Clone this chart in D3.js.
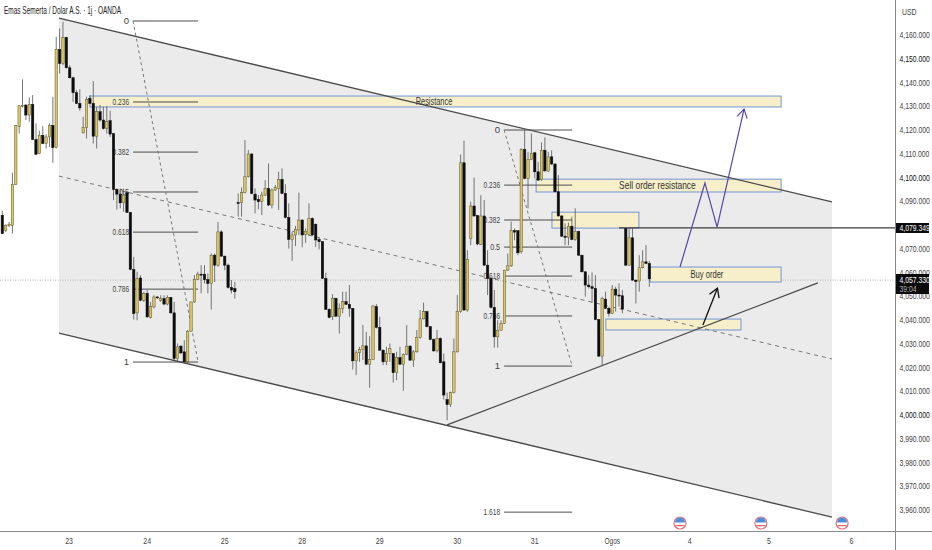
<!DOCTYPE html>
<html>
<head>
<meta charset="utf-8">
<script src="https://cdnjs.cloudflare.com/ajax/libs/d3/7.8.5/d3.min.js"></script>
<style>
  html, body { margin: 0; padding: 0; background: #fff; }
  text { font-family: "Liberation Sans", sans-serif; }
</style>
</head>
<body>
<div id="chart"></div>
<script>
// candle data, one hourly bar each
const opens = [
  4084.1,4077.8,4079.9,4079.9,4097.1,4121.6,4130,4130.5,4126.3,4130.8,
  4116,4110.1,4117.8,4114.3,4117.1,4122,4112.6,4153.9,4148,4159,
  4146.2,4142,4135.7,4131.2,4118.8,4121.1,4133.3,4131.2,4117.4,4127.7,
  4124.2,4120.6,4123.9,4118.5,4095,4093,4089.5,4093.6,4085.3,4061.3,
  4043,4057.7,4048.3,4051.2,4041,4045.5,4049.7,4048.3,4049,4046.7,
  4049.5,4043,4023.8,4029,4026.6,4022.4,4035.3,4047.6,4057,4059.3,
  4059.3,4057,4055.4,4067.3,4063.1,4077.1,4066.9,4063.1,4053.7,4053.2,
  4089.5,4089.4,4093.6,4100.3,4109.9,4093,4090.8,4089.8,4092.6,4095.4,
  4088.4,4094.7,4095.4,4099.2,4093.3,4083.2,4073.9,4075.8,4077.9,4082.1,
  4076,4076,4082.8,4080.3,4073.9,4073,4057.5,4044.5,4041.4,4049.1,
  4041.6,4044.9,4047.7,4046.6,4044.9,4022.8,4026.2,4027.6,4029.1,4021.4,
  4023.4,4045.6,4036.9,4027.3,4022.4,4025.9,4025.9,4017.8,4024.2,4021.4,
  4025.6,4029,4023.1,4026.6,4032.7,4040.5,4043.5,4037.2,4031.8,4027,
  4032.2,4022.4,4006.5,4004.4,4009.4,4026.6,4043.5,4106.2,4044.2,4074.3,
  4088,4084,4071.8,4083.8,4063.1,4057.5,4045.3,4032.9,4035.7,4038.5,
  4061,4062.8,4077.6,4077.6,4068.7,4111.8,4099.6,4107.6,4110.4,4102.4,
  4099.2,4111.5,4102.7,4108.7,4105.7,4094,4083.8,4075.3,4074.8,4079.5,
  4073.9,4077.2,4067.3,4060.3,4054.7,4054,4053.3,4040.2,4024.8,4048.8,
  4044.9,4042.8,4053,4050.5,4050.2,4078.6,4063.1,4074.6,4056.8,4056.4,
  4062,4064.5,4063.8
];
const highs = [
  4086,4080.3,4081.3,4102,4122,4130.5,4141.3,4130.9,4133.7,4134.7,
  4122.8,4119.7,4121.6,4118.3,4122.8,4134,4159.3,4162.8,4165.6,4159.2,
  4147.3,4142.4,4136.8,4137.1,4125.6,4134,4134.7,4140.6,4129.8,4130.5,
  4129.8,4130,4128.1,4118.6,4095.4,4095.4,4095.4,4094,4085.4,4066.6,
  4060.3,4058.9,4051.9,4052.6,4047.6,4050.4,4050,4050.4,4050.4,4050.4,
  4049.7,4047.6,4030.1,4029.4,4031.5,4035.7,4047.7,4058.9,4060.3,4063.1,
  4063.1,4059.6,4068,4068,4081.3,4077.8,4067,4063.8,4056.8,4056,
  4093.3,4095.8,4115.8,4111.6,4110.2,4095.4,4092.6,4094,4098.9,4105.9,
  4095.4,4096.8,4102.4,4103.8,4097.2,4089.1,4077.2,4079.6,4093.6,4082.4,
  4078.6,4089.1,4083.2,4080.7,4074.8,4073.1,4059.9,4044.9,4050.9,4049.4,
  4047,4051.9,4051.9,4054.7,4045,4027.3,4028.7,4037.9,4035,4033.2,
  4046.3,4046.7,4041.4,4027.6,4028.7,4030.1,4026,4026.6,4028.7,4025.9,
  4037.9,4029.4,4027.3,4035.8,4044.2,4047.3,4043.9,4037.4,4032.2,4035.8,
  4032.7,4025.9,4009.4,4009.8,4032.2,4050.5,4109.7,4115.5,4069.4,4089.8,
  4099.9,4084.2,4092.6,4090.5,4069.4,4058.2,4052.6,4039.9,4039.9,4061.1,
  4068,4081.4,4078.6,4077.7,4112.3,4120,4110.8,4118.6,4110.8,4106.6,
  4114.8,4116.9,4110.8,4111.5,4105.9,4101,4084.2,4080.7,4081,4083.5,
  4087,4077.6,4067.4,4060.4,4058.9,4060,4058.9,4040.3,4049.8,4051.9,
  4045.6,4054.7,4054,4055.4,4052.6,4078.7,4078.6,4078.6,4056.9,4067.3,
  4069.4,4071.5,4064.9
];
const lows = [
  4076.4,4077.1,4079.2,4076.4,4096.8,4118.5,4129.5,4124.2,4123.5,4115.7,
  4109.4,4109.8,4114,4112.2,4112.9,4106.2,4112.2,4143.8,4147.3,4145.9,
  4141.7,4131.9,4130.9,4128.1,4118.5,4116.4,4130.9,4114.3,4112.2,4123.5,
  4120.2,4118.5,4117.1,4090.5,4086.5,4087,4085.6,4085.1,4061,4040.2,
  4039.9,4047.9,4047.6,4041,4040.6,4044.8,4049,4047.6,4046.2,4046.2,
  4042.7,4023.1,4022.4,4025.9,4021.7,4021.7,4035,4047.2,4056.8,4051.2,
  4055.4,4051.2,4044.4,4056,4062.4,4066.6,4061,4053.2,4051.2,4049,
  4083.5,4083.5,4093.3,4100,4093,4084.9,4086.6,4084.2,4092.2,4088,
  4087,4094.4,4086.3,4093,4082.8,4070.1,4064.9,4071.1,4075.8,4070.6,
  4072.5,4075.8,4075.3,4070.8,4069.7,4057.4,4044.2,4040.7,4040,4041.4,
  4034.3,4042.8,4046.3,4041.4,4019.2,4016.8,4022.4,4023.1,4021,4011.5,
  4023.1,4036.4,4027,4021,4021,4022.4,4013.6,4014.7,4021,4010.2,
  4025.2,4022.8,4020.3,4026.3,4032.2,4040.2,4036.9,4031.5,4026.6,4026.3,
  4021.7,4006.5,3997.8,4003.4,4009.1,4026.3,4043,4043.9,4043.5,4071.5,
  4083.5,4071.5,4071.5,4062.8,4050.5,4044.9,4028.4,4028.4,4035.6,4038.3,
  4060.7,4062.4,4073.6,4067.3,4068,4099.2,4087,4107.3,4099.6,4098.6,
  4098.6,4102.4,4102.4,4105.2,4093.6,4083.5,4075,4071.5,4071.5,4073.6,
  4073.4,4067,4060,4049.8,4053.3,4047.3,4039.9,4024.5,4020.6,4044.6,
  4041.4,4042.5,4043.5,4045.6,4042.8,4062.8,4062.8,4056.5,4047,4051.9,
  4061.7,4063.5,4054
];
const closes = [
  4076.4,4079.9,4080.3,4097.1,4121.8,4130.2,4130.4,4126.3,4130.8,4116,
  4109.8,4117.8,4114.3,4117.1,4122,4112.6,4153.9,4148,4159,4146.2,
  4142,4135.7,4131.2,4129.3,4121.1,4132.9,4131.2,4117.4,4127.7,4124.2,
  4120.6,4123.5,4118.3,4095,4093,4089.3,4092.6,4085.3,4061.3,4042.7,
  4057.5,4048.3,4051.2,4041.3,4045.8,4049.7,4049.5,4049,4046.7,4049.5,
  4043,4023.8,4028.7,4026.1,4022.4,4035.3,4047.6,4057,4059.3,4058.9,
  4057,4055.4,4067.3,4063.1,4077.1,4066.9,4063.1,4053.7,4052.6,4051.9,
  4089.1,4093.6,4100.3,4109.9,4093.3,4090.5,4089.8,4092.6,4095.4,4088.4,
  4094.7,4095.7,4099.2,4093.3,4083.2,4073.9,4075.8,4078.1,4082.1,4075.8,
  4077.4,4082.8,4075.8,4073.7,4073,4057.5,4044.5,4041.1,4049.1,4041.6,
  4044.9,4047.7,4046.6,4044.9,4022.8,4026.2,4027.6,4029.1,4021.4,4023.4,
  4045.9,4036.9,4027.3,4022.4,4025.9,4028,4017.8,4024.2,4021.4,4025.6,
  4029,4023.1,4026.6,4032.7,4040.5,4043.5,4037.2,4031.8,4027,4032.2,
  4022,4008.4,4004.4,4009.4,4026.6,4043.5,4106.2,4044.2,4065.5,4088,
  4083.8,4072,4083.8,4063.1,4057.5,4045.3,4032.9,4035.7,4038.5,4061,
  4062.8,4077.6,4077,4068.3,4111.8,4099.6,4107.6,4110.1,4102.4,4098.9,
  4111.5,4102.8,4108.7,4105.7,4094,4083.8,4075.3,4074.8,4079.5,4073.9,
  4077.2,4067.3,4060.3,4054.7,4054,4053.3,4040.2,4024.8,4049.1,4044.9,
  4042.8,4053,4050.5,4050.2,4044.6,4063.1,4074.6,4056.8,4056.2,4062,
  4064.5,4063.8,4057.33
];

// axis labels
const priceTicks = [4160,4150,4140,4130,4120,4110,4100,4090,4070,4060,4050,4040,4030,4020,4010,4000,3990,3980,3970,3960];
const strongTicks = [4150,4100,4000];
const dayLabels = ["23","24","25","28","29","30","31","Ogos","4","5","6"];
const dayBars = [19.8,43,66,89,112,135,158,181,204,227.5,252];

// channel and trend drawings, as [bar, price]
const channelTop = [[16.8,4167.1],[246.2,4089.7]];
const channelBottom = [[16.8,4034.5],[246.2,3957.0]];
const channelMiddle = [[16.8,4100.6],[246.2,4023.6]];
const riseLine = [[132,3995.8],[242,4055.6]];
const blackArrow = [[207.9,4037.9],[212.2,4053.4]];
const purplePath = [[201.1,4062.3],[208.5,4097.7],[212.1,4079.1],[220.1,4128.8]];

// fib retracements
const fibLabels = ["0","0.236","0.382","0.5","0.618","0.786","1"];
const fibOneBars = [38.8,58.1];
const fibOnePrices = [4165.9,4131.8,4110.7,4093.9,4077,4053,4022.3];
const fibTwoBars = [148.9,169.1];
const fibTwoLabels = ["0","0.236","0.382","0.5","0.618","0.786","1","1.618"];
const fibTwoPrices = [4120,4096.8,4082.1,4070.7,4058.5,4041.7,4020.6,3959.1];

// zones
const zoneLabels = ["Resistance","Sell order resistance","","Buy order",""];
const zoneLabelBars = [128.1,194.4,0,209.1,0];
const zoneStart = [26,158.4,163.1,192.2,179.1];
const zoneEnd = [231.1,231.1,188.9,231.1,219.2];
const zoneTop = [4134.3,4099.3,4085.4,4062.3,4040.4];
const zoneBottom = [4129.7,4093.9,4078.7,4056,4035.8];

const levelStart = 183;
const levelPrice = 4078.8;
const lastPrice = 4056.8;
const newsBars = [201.1,225.1,249.2];

const width = 932, height = 550;
const axisX = 895.5, axisY = 531.5;
const goldFill = "#dac666", goldEdge = "#5e5628", darkFill = "#0d0d0d";

const x = d3.scaleLinear().domain([0,100]).range([2.3,339.3]);
const y = d3.scaleLinear().domain([4160,3960]).range([35,510]);
const lineGen = d3.line().x(d => x(d[0])).y(d => y(d[1]));

const svg = d3.select("#chart").append("svg").attr("width", width).attr("height", height)
    .style("display", "block");

svg.append("defs").append("clipPath").attr("id", "plot")
    .append("rect").attr("width", axisX).attr("height", axisY);
const plot = svg.append("g").attr("clip-path", "url(#plot)");

// channel shading
plot.append("path")
    .attr("d", lineGen([channelTop[0], channelTop[1], channelBottom[1], channelBottom[0]]) + "Z")
    .attr("fill", "#ebebeb");

// last price dotted line
plot.append("line").attr("x1", 0).attr("x2", axisX).attr("y1", y(lastPrice)).attr("y2", y(lastPrice))
    .attr("stroke", "#b5b5b0").attr("stroke-width", 1).attr("stroke-dasharray", "1,1.5");

// zones
zoneStart.forEach((s, i) => {
    plot.append("rect")
        .attr("x", x(s)).attr("y", y(zoneTop[i]))
        .attr("width", x(zoneEnd[i]) - x(s)).attr("height", y(zoneBottom[i]) - y(zoneTop[i]))
        .attr("fill", "#f6efc9").attr("stroke", "#7394d6").attr("stroke-width", 1);
});

// fib levels and their dashed trend lines
function drawFib(bars, prices, labels) {
    prices.forEach((p, i) => {
        plot.append("line").attr("x1", x(bars[0])).attr("x2", x(bars[1])).attr("y1", y(p)).attr("y2", y(p))
            .attr("stroke", "#4d4d4d").attr("stroke-width", 1);
        plot.append("text").attr("x", x(bars[0]) - 4).attr("y", y(p) + 3).attr("text-anchor", "end")
            .attr("font-size", 9.5).attr("fill", "#444").text(labels[i])
            .attr("textLength", labels[i].length > 1 ? labels[i].length * 3.3 : null)
            .attr("lengthAdjust", "spacingAndGlyphs");
    });
    plot.append("path")
        .attr("d", lineGen([[bars[0], prices[0]], [bars[1], prices[6]]]))
        .attr("fill", "none").attr("stroke", "#777").attr("stroke-width", 1).attr("stroke-dasharray", "3,3");
}
drawFib(fibOneBars, fibOnePrices, fibLabels);
drawFib(fibTwoBars, fibTwoPrices, fibTwoLabels);

// mid channel dashed
plot.append("path").attr("d", lineGen(channelMiddle))
    .attr("fill", "none").attr("stroke", "#777").attr("stroke-width", 1).attr("stroke-dasharray", "4,4");

// candles
opens.forEach((o, i) => {
    const c = closes[i], up = c >= o;
    plot.append("line").attr("x1", x(i)).attr("x2", x(i)).attr("y1", y(highs[i])).attr("y2", y(lows[i]))
        .attr("stroke", "#555").attr("stroke-width", 0.8);
    plot.append("rect")
        .attr("x", x(i) - 1.2).attr("width", 2.4)
        .attr("y", y(Math.max(o, c))).attr("height", Math.max(Math.abs(y(o) - y(c)), 1))
        .attr("fill", up ? goldFill : darkFill)
        .attr("stroke", up ? goldEdge : darkFill).attr("stroke-width", 0.5);
});

// channel borders and rising line
[channelTop, channelBottom, riseLine].forEach(l => {
    plot.append("path").attr("d", lineGen(l)).attr("fill", "none")
        .attr("stroke", "#4a4a4a").attr("stroke-width", 1.3);
});

// horizontal level
plot.append("line").attr("x1", x(levelStart)).attr("x2", axisX).attr("y1", y(levelPrice)).attr("y2", y(levelPrice))
    .attr("stroke", "#3c3c3c").attr("stroke-width", 1.2);

// arrows
function arrowHead(a, b, color, w) {
    const x1 = x(a[0]), y1 = y(a[1]), x2 = x(b[0]), y2 = y(b[1]);
    const ang = Math.atan2(y2 - y1, x2 - x1), len = 10;
    const pts = [ang + 2.6, ang - 2.6].map(t => [x2 + len * Math.cos(t), y2 + len * Math.sin(t)]);
    plot.append("path").attr("d", `M${pts[0]}L${x2},${y2}L${pts[1]}`)
        .attr("fill", "none").attr("stroke", color).attr("stroke-width", w);
}
plot.append("path").attr("d", lineGen(blackArrow)).attr("fill", "none").attr("stroke", "#111").attr("stroke-width", 1.3);
arrowHead(blackArrow[0], blackArrow[1], "#111", 1.3);
plot.append("path").attr("d", lineGen(purplePath)).attr("fill", "none").attr("stroke", "#5548ad").attr("stroke-width", 1.2);
arrowHead(purplePath[2], purplePath[3], "#5548ad", 1.2);

// zone labels
zoneLabels.forEach((t, i) => {
    if (!t) return;
    plot.append("text").attr("x", x(zoneLabelBars[i]))
        .attr("y", (y(zoneTop[i]) + y(zoneBottom[i])) / 2 + 3.5)
        .attr("text-anchor", "middle").attr("font-size", 11).attr("fill", "#333")
        .attr("textLength", t.length * 3.65).attr("lengthAdjust", "spacingAndGlyphs").text(t);
});

// news flags
newsBars.forEach(b => {
    const g = plot.append("g").attr("transform", `translate(${x(b)},523)`);
    g.append("circle").attr("r", 6).attr("fill", "#fff").attr("stroke", "#e8707c").attr("stroke-width", 1.2);
    g.append("path").attr("d", "M-5,-0.5A5,5 0 0 1 5,-0.5Z").attr("fill", "#4a8fdc");
    g.append("rect").attr("x", -4.6).attr("y", 2).attr("width", 9.2).attr("height", 1.3).attr("fill", "#ea6a74");
});

// axes frame
svg.append("line").attr("x1", axisX).attr("x2", axisX).attr("y1", 0).attr("y2", height).attr("stroke", "#8a8a8a");
svg.append("line").attr("x1", 0).attr("x2", width).attr("y1", axisY).attr("y2", axisY).attr("stroke", "#8a8a8a");

// axis text is squeezed sideways, the screenshot was narrowed
function axisText(px, py, str, color) {
    return svg.append("text").attr("transform", `translate(${px},${py}) scale(0.76,1)`)
        .attr("font-size", 9).attr("fill", color).text(str);
}

// price axis labels
priceTicks.forEach(t => {
    axisText(899.5, y(t) + 3, d3.format(",.3f")(t), strongTicks.includes(t) ? "#111" : "#444");
});
axisText(902, 14.5, "USD", "#444");

// day labels
dayBars.forEach((b, i) => {
    svg.append("text").attr("x", x(b)).attr("y", 544).attr("text-anchor", "middle")
        .attr("font-size", 9.5).attr("fill", "#444").text(dayLabels[i])
        .attr("textLength", dayLabels[i].length * 3.9).attr("lengthAdjust", "spacingAndGlyphs");
});

// title
svg.append("text").attr("x", 4).attr("y", 14).attr("font-size", 10.5).attr("fill", "#222")
    .attr("textLength", 117).attr("lengthAdjust", "spacingAndGlyphs")
    .text("Emas Semerta / Dolar A.S. · 1j · OANDA");

// price tags
svg.append("rect").attr("x", 896).attr("y", 223).attr("width", 33).attr("height", 10).attr("fill", "#0a0a0a");
axisText(899.5, 231, "4,079.349", "#fff");
svg.append("rect").attr("x", 896).attr("y", 274).attr("width", 33).attr("height", 20).attr("fill", "#0a0a0a");
axisText(899.5, 282.5, "4,057.330", "#fff");
axisText(899.5, 291.5, "39:04", "#aaa");
</script>
</body>
</html>
